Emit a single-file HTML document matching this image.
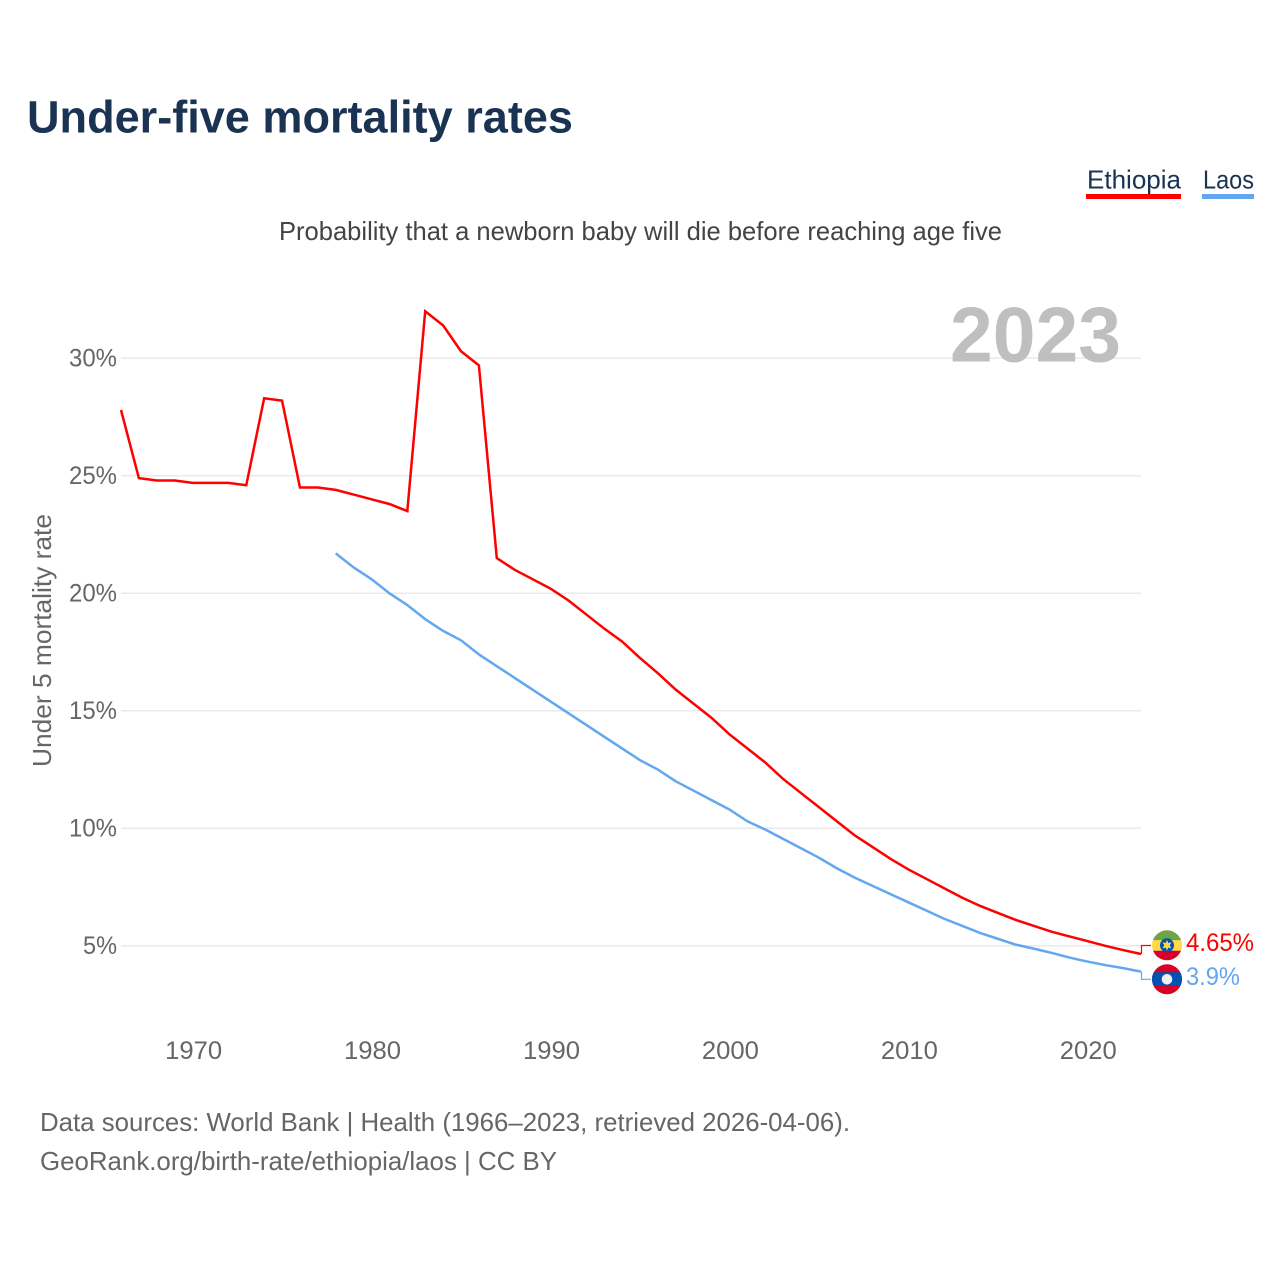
<!DOCTYPE html>
<html lang="en">
<head>
<meta charset="utf-8">
<title>Under-five mortality rates</title>
<style>
html,body{margin:0;padding:0;background:#fff}
svg{display:block}
text{font-family:"Liberation Sans",sans-serif}
</style>
</head>
<body>
<svg id="chart" xmlns="http://www.w3.org/2000/svg" width="1280" height="1280" viewBox="0 0 1280 1280">
  <text x="27" y="132.5" font-size="45" font-weight="700" fill="#1a3353" textLength="546" lengthAdjust="spacingAndGlyphs">Under-five mortality rates</text>
  <g>
    <g>
      <text x="1087" y="188.5" font-size="26" fill="#1a3353" textLength="94" lengthAdjust="spacingAndGlyphs">Ethiopia</text>
      <rect x="1086" y="194" width="95" height="5" fill="#ff0000"/>
    </g>
    <g>
      <text x="1203" y="188.5" font-size="26" fill="#1a3353" textLength="51" lengthAdjust="spacingAndGlyphs">Laos</text>
      <rect x="1202" y="194" width="52" height="5" fill="#63a7ef"/>
    </g>
  </g>
  <text x="279" y="240" font-size="26" fill="#444444" textLength="723" lengthAdjust="spacingAndGlyphs">Probability that a newborn baby will die before reaching age five</text>
  <text transform="translate(51,767) rotate(-90)" x="0" y="0" font-size="26" fill="#666666" textLength="253" lengthAdjust="spacingAndGlyphs">Under 5 mortality rate</text>
  <g id="grid"></g>
  <g id="yticks"></g>
  <g id="xticks"></g>
  <text x="950" y="361.5" font-size="78" font-weight="700" fill="#bfbfbf" textLength="171" lengthAdjust="spacingAndGlyphs">2023</text>
  <g id="series"></g>
  <defs>
    <clipPath id="clip-et"><circle cx="1167" cy="945.3" r="15"/></clipPath>
    <clipPath id="clip-la"><circle cx="1167" cy="979.3" r="15"/></clipPath>
  </defs>
  <g clip-path="url(#clip-et)">
    <rect x="1152" y="930" width="30" height="10.3" fill="#6da544"/>
    <rect x="1152" y="940.3" width="30" height="10.4" fill="#ffda44"/>
    <rect x="1152" y="950.7" width="30" height="10" fill="#d80027"/>
    <circle cx="1167" cy="945.3" r="7" fill="#0052b4"/>
    <polygon fill="#ffda44" points="1167,939.8 1168.2,943 1171.5,942.3 1169.7,945.3 1171.5,948.3 1168.2,947.6 1167,950.8 1165.8,947.6 1162.5,948.3 1164.3,945.3 1162.5,942.3 1165.8,943"/>
  </g>
  <g clip-path="url(#clip-la)">
    <rect x="1152" y="964" width="30" height="31" fill="#d80027"/>
    <rect x="1152" y="972.3" width="30" height="13.7" fill="#0052b4"/>
    <circle cx="1167" cy="979.3" r="5.3" fill="#f0f0f0"/>
  </g>
  <g id="endlabels"></g>
  <text x="40" y="1131" font-size="26" fill="#666666" textLength="810" lengthAdjust="spacingAndGlyphs">Data sources: World Bank | Health (1966–2023, retrieved 2026-04-06).</text>
  <text x="40" y="1170" font-size="26" fill="#666666" textLength="517" lengthAdjust="spacingAndGlyphs">GeoRank.org/birth-rate/ethiopia/laos | CC BY</text>
</svg>
<script>
const ethiopiaStartYear = 1966;
const ethiopiaValues = [27.8,24.9,24.8,24.8,24.7,24.7,24.7,24.6,28.3,28.2,24.5,24.5,24.4,24.2,24.0,23.8,23.5,32.0,31.4,30.3,29.7,21.5,21.0,20.6,20.2,19.7,19.1,18.5,17.95,17.25,16.6,15.9,15.3,14.7,14.0,13.4,12.8,12.1,11.5,10.9,10.3,9.7,9.2,8.7,8.25,7.85,7.45,7.05,6.7,6.4,6.1,5.85,5.6,5.4,5.2,5.0,4.82,4.65];
const laosStartYear = 1978;
const laosValues = [21.7,21.1,20.6,20.0,19.5,18.9,18.4,18.0,17.4,16.9,16.4,15.9,15.4,14.9,14.4,13.9,13.4,12.9,12.5,12.0,11.6,11.2,10.8,10.3,9.95,9.55,9.15,8.75,8.3,7.9,7.55,7.2,6.85,6.5,6.15,5.85,5.55,5.3,5.05,4.88,4.7,4.5,4.33,4.18,4.05,3.9];
const yTickValues = [5,10,15,20,25,30];
const xTickValues = [1970,1980,1990,2000,2010,2020];

const NS = 'http://www.w3.org/2000/svg';
const RED = '#ff0000';
const BLUE = '#63a7ef';
function xScale(year){ return 121 + (year - 1966) * (1020 / 57); }
function yScale(v){ return 945.8 - (v - 5) * 23.5; }
function mk(tag, parent, attrs){
  const el = document.createElementNS(NS, tag);
  for (const k in attrs) el.setAttribute(k, attrs[k]);
  parent.appendChild(el);
  return el;
}

const grid = document.getElementById('grid');
const yticks = document.getElementById('yticks');
yTickValues.forEach(function(v){
  const line = mk('line', grid, {x1:121, x2:1141, y1:yScale(v), y2:yScale(v), stroke:'#eaeaea', 'stroke-width':1.5});
  
  
  const label = v + '%';
  const t = mk('text', yticks, {x:117, y:yScale(v) + 8.2, 'font-size':25, fill:'#666666', 'text-anchor':'end', textLength:(label.length - 1) * 14 + 20, lengthAdjust:'spacingAndGlyphs'});
  
  
  t.textContent = label;
});

const xticks = document.getElementById('xticks');
xTickValues.forEach(function(year){
  const t = mk('text', xticks, {x:xScale(year) + 1, y:1059, 'font-size':25, fill:'#666666', 'text-anchor':'middle', textLength:57, lengthAdjust:'spacingAndGlyphs'});
  
  
  t.textContent = String(year);
});

function pathFor(values, startYear){
  return values.map(function(v, i){
    return (i ? 'L' : 'M') + xScale(startYear + i).toFixed(2) + ' ' + yScale(v).toFixed(2);
  }).join(' ');
}
const series = document.getElementById('series');
const ethLine = mk('path', series, {d:pathFor(ethiopiaValues, ethiopiaStartYear), fill:'none', stroke:RED, 'stroke-width':2.5, 'stroke-linejoin':'miter'});


const laoLine = mk('path', series, {d:pathFor(laosValues, laosStartYear), fill:'none', stroke:BLUE, 'stroke-width':2.5, 'stroke-linejoin':'round'});



const endlabels = document.getElementById('endlabels');
const ethLast = ethiopiaValues[ethiopiaValues.length - 1];
const laoLast = laosValues[laosValues.length - 1];
const ethConn = mk('path', endlabels, {d:'M1141.5 ' + yScale(ethLast).toFixed(2) + ' V945.5 H1151', fill:'none', stroke:RED, 'stroke-width':1.2});


const laoConn = mk('path', endlabels, {d:'M1141.5 ' + yScale(laoLast).toFixed(2) + ' V979.3 H1151', fill:'none', stroke:BLUE, 'stroke-width':1.2});


const ethVal = mk('text', endlabels, {x:1186, y:951, 'font-size':25, fill:RED, textLength:68, lengthAdjust:'spacingAndGlyphs'});


ethVal.textContent = ethLast + '%';
const laoVal = mk('text', endlabels, {x:1186, y:985, 'font-size':25, fill:BLUE, textLength:54, lengthAdjust:'spacingAndGlyphs'});


laoVal.textContent = laoLast + '%';
</script>
</body>
</html>
